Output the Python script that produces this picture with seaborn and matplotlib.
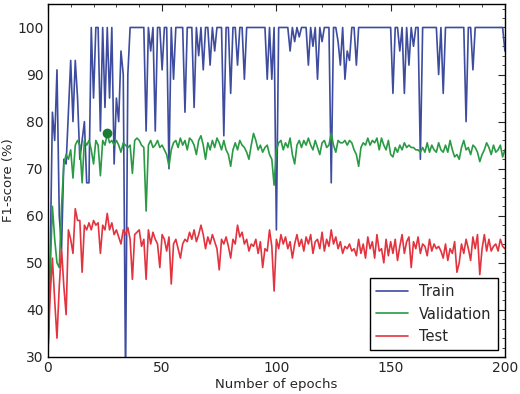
import numpy as np
import pandas as pd
import matplotlib
matplotlib.use('Agg')
import matplotlib.pyplot as plt
from matplotlib.ticker import AutoMinorLocator
import seaborn as sns

# F1-score per epoch
train = [30, 50, 82, 76, 91, 60, 53, 72, 71, 82,
         93, 80, 93, 85, 72, 76, 80, 67, 67, 100,
         85, 100, 100, 78, 100, 83, 100, 85, 100, 71,
         85, 80, 95, 90, 25, 90, 100, 100, 100, 100,
         100, 100, 100, 78, 100, 95, 100, 78, 100, 100,
         91, 100, 100, 70, 100, 89, 100, 100, 100, 100,
         82, 100, 100, 100, 83, 100, 94, 100, 91, 100,
         100, 92, 100, 95, 100, 100, 100, 77, 100, 100,
         86, 100, 100, 92, 100, 100, 89, 100, 100, 100,
         100, 100, 100, 100, 100, 100, 89, 100, 89, 100,
         57, 100, 100, 100, 100, 100, 95, 100, 97, 100,
         98, 100, 100, 100, 92, 100, 96, 100, 89, 100,
         97, 100, 100, 100, 67, 100, 100, 97, 92, 100,
         89, 95, 93, 100, 100, 92, 100, 100, 100, 100,
         100, 100, 100, 100, 100, 100, 100, 100, 100, 100,
         100, 86, 100, 100, 95, 100, 86, 100, 92, 100,
         96, 100, 100, 72, 100, 100, 100, 100, 100, 100,
         100, 90, 100, 86, 100, 100, 100, 100, 100, 100,
         100, 100, 100, 80, 100, 100, 91, 100, 100, 100,
         100, 100, 100, 100, 100, 100, 100, 100, 100, 100,
         95]

validation = [30, 48, 62, 55, 50, 49, 62, 71, 73, 72,
              74, 68, 75, 76, 75, 67, 76, 75, 76, 74,
              71, 76, 75, 68.5, 76, 75, 77.5, 75.5, 76, 75,
              76, 75, 73.5, 75.5, 75, 74.5, 75, 69, 76, 76.5,
              76, 75, 74.5, 61, 75, 76, 74.5, 75, 76, 74.5,
              75, 74, 73, 70.5, 74, 75.5, 76, 74.5, 76.5, 75,
              76, 74, 76.5, 76, 75, 73, 76, 77, 75, 72,
              75.5, 74, 76, 74.5, 76.5, 75.5, 74, 76, 74, 73,
              70.5, 74, 75.5, 74, 76, 75, 74.5, 73.5, 72, 75,
              77.5, 76, 74, 75, 73.5, 74.5, 75, 73, 72, 66.5,
              74, 75.5, 76, 74, 75.5, 74.5, 76.5, 73, 71, 75,
              76, 74.5, 76, 75, 76.5, 75, 74, 76, 74.5, 73,
              75.5, 76, 74.5, 75, 77.5, 75, 73.5, 76, 75.5, 75.5,
              76, 75, 76, 75.5, 74, 73, 70.5, 74.5, 75.5, 75,
              76.5, 75, 76, 75.5, 76.5, 74, 76.5, 75, 74, 76,
              73, 72.5, 74.5, 73.5, 75, 74, 75.5, 74.5, 75, 74.5,
              74.5, 74, 74, 73.5, 74.5, 73.5, 75.5, 73.5, 75, 74,
              73.5, 75.5, 74, 73.5, 75, 73.5, 76, 74, 72.5, 73,
              72, 74.5, 76, 74, 74.5, 73, 75, 74.5, 73.5, 71.5,
              73, 74, 75.5, 74.5, 73, 75, 73.5, 74, 75, 72.5,
              74]

test = [30, 43, 51, 42, 34, 45, 53, 45, 39, 57,
        55, 52, 61.5, 59, 59, 48, 58, 57, 58.5, 57,
        59, 58, 58.5, 52, 58, 57, 60.5, 57, 58.5, 56,
        57, 55.5, 54, 57, 56, 57.5, 55, 46.5, 56, 56.5,
        57, 53.5, 55, 46.5, 57, 54, 56.5, 55, 54, 49,
        56, 55, 52.5, 55.5, 45.5, 54, 55, 53, 51, 54,
        55, 54.5, 56.5, 55, 57, 54.5, 56, 58, 56, 53,
        55.5, 54, 56, 54.5, 53, 48.5, 55, 54, 55.5, 53.5,
        51, 55, 54, 58, 55.5, 56.5, 54, 55, 52.5, 54,
        53.5, 55, 52, 54.5, 49, 53, 52.5, 57, 53.5, 44,
        55, 53, 56, 54, 55.5, 53, 54.5, 51, 54, 56,
        53.5, 55, 52.5, 55.5, 54, 56, 52, 54.5, 55, 53,
        56.5, 52.5, 55, 53.5, 57, 54, 55.5, 53, 54.5, 52,
        53.5, 53, 54, 52.5, 53, 51.5, 55, 52, 54, 51,
        55.5, 53, 54.5, 51, 56, 52.5, 53, 50, 55, 51.5,
        54.5, 52, 55, 50.5, 53.5, 56, 52, 54.5, 55.5, 49,
        54.5, 53, 55.5, 52, 54, 53.5, 51.5, 55, 52.5, 54,
        53, 53.5, 52.5, 51, 54, 50.5, 53, 52, 54.5, 48,
        50, 54, 52, 55, 53, 50.5, 55.5, 53, 56, 47.5,
        53, 56, 52.5, 55, 52.5, 53.5, 54, 52.5, 55, 53.5,
        53]

epochs = np.arange(len(train))
best_epoch = 26
best_val = validation[best_epoch]

df = pd.DataFrame({'epoch': epochs, 'Train': train,
                   'Validation': validation, 'Test': test})

sns.set_style('white')
plt.rcParams['font.family'] = ['DejaVu Sans']

fig = plt.figure(figsize=(5.2, 3.94), dpi=100)
ax = fig.add_axes([0.092, 0.094, 0.879, 0.896])

sns.lineplot(data=df, x='epoch', y='Train', color='#3d4c9f', lw=1.2, label='Train', ax=ax)
sns.lineplot(data=df, x='epoch', y='Validation', color='#2a9a44', lw=1.2, label='Validation', ax=ax)
sns.lineplot(data=df, x='epoch', y='Test', color='#e3333f', lw=1.2, label='Test', ax=ax)
ax.plot(best_epoch, best_val, 'o', color='#1b7a33', ms=6)

ax.set_xlim(0, 200)
ax.set_ylim(30, 105)
ax.set_xticks([0, 50, 100, 150, 200])
ax.set_yticks([30, 40, 50, 60, 70, 80, 90, 100])
ax.xaxis.set_minor_locator(AutoMinorLocator(5))
ax.yaxis.set_minor_locator(AutoMinorLocator(5))
ax.tick_params(which='both', direction='in', top=True, right=True, labelsize=10, pad=3)
ax.tick_params(which='major', length=5, width=0.8)
ax.tick_params(which='minor', length=2.5, width=0.6)
for s in ax.spines.values():
    s.set_color('black')
    s.set_linewidth(1.0)

ax.set_xlabel('Number of epochs', fontsize=9.5, labelpad=2)
ax.set_ylabel('F1-score (%)', fontsize=9.5, labelpad=2)

leg = ax.legend(loc='lower right', fontsize=10.5, fancybox=False, framealpha=1,
                handlelength=2.2, borderaxespad=0.5)
leg.get_frame().set_edgecolor('black')

fig.savefig('out.png', dpi=100)
